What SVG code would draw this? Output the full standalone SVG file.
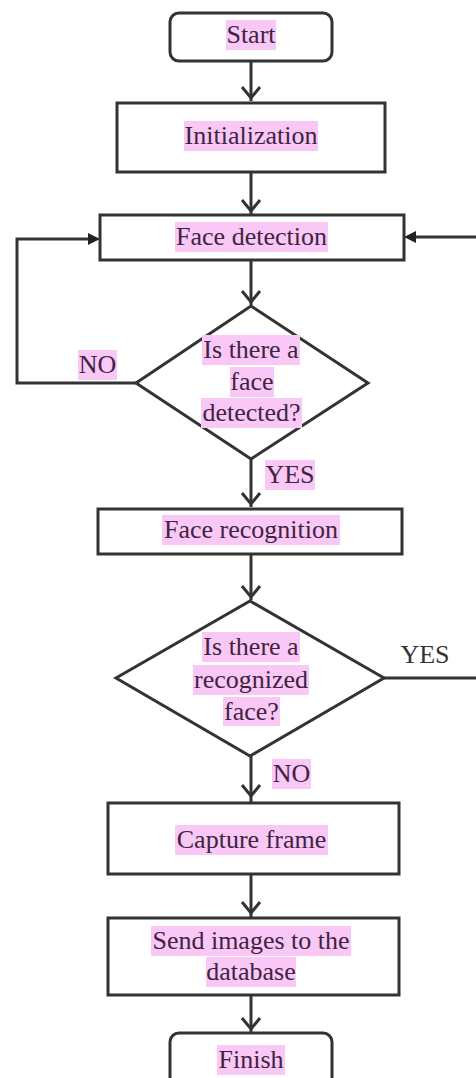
<svg xmlns="http://www.w3.org/2000/svg" width="476" height="1078" viewBox="0 0 476 1078">
<style>
.box{fill:#fff;stroke:#333;stroke-width:3}
.hl{fill:#f9c8f7}
text{font-family:'Liberation Serif','Times New Roman',serif;font-size:26px}
.t{fill:#40243f;text-anchor:middle}
.tp{fill:#333;text-anchor:middle}
.ln{fill:none;stroke:#333;stroke-width:3}
.hd{fill:none;stroke:#333;stroke-width:3;stroke-linejoin:miter}
.fh{fill:#222}
</style>
<rect width="476" height="1078" fill="#fff"/>
<g id="connectors">
<line class="ln" x1="251" y1="61" x2="251" y2="101"/>
<path class="hd" d="M242,87 L251,98 L260,87"/>
<line class="ln" x1="251" y1="172" x2="251" y2="214"/>
<path class="hd" d="M242,200 L251,211 L260,200"/>
<line class="ln" x1="251" y1="260" x2="251" y2="305"/>
<path class="hd" d="M242,291 L251,302 L260,291"/>
<polyline class="ln" points="136,383 17,383 17,239 90,239"/>
<path class="fh" d="M88,233 L100,239 L88,245 Z"/>
<line class="ln" x1="476" y1="237" x2="414" y2="237"/>
<path class="fh" d="M416,231 L404,237 L416,243 Z"/>
<line class="ln" x1="251" y1="459" x2="251" y2="507"/>
<path class="hd" d="M242,493 L251,504 L260,493"/>
<line class="ln" x1="251" y1="554" x2="251" y2="600"/>
<path class="hd" d="M242,586 L251,597 L260,586"/>
<line class="ln" x1="384" y1="678" x2="476" y2="678"/>
<line class="ln" x1="251" y1="756" x2="251" y2="802"/>
<path class="hd" d="M242,785 L251,796 L260,785"/>
<line class="ln" x1="251" y1="874" x2="251" y2="917"/>
<path class="hd" d="M242,902 L251,913 L260,902"/>
<line class="ln" x1="251" y1="995" x2="251" y2="1032"/>
<path class="hd" d="M242,1018 L251,1029 L260,1018"/>
<rect class="hl" x="78" y="350" width="39" height="30"/>
<text class="t" x="97.5" y="373">NO</text>
<rect class="hl" x="265" y="460" width="50" height="30"/>
<text class="t" x="290" y="483">YES</text>
<text class="tp" x="425" y="663">YES</text>
<rect class="hl" x="272" y="759" width="39" height="30"/>
<text class="t" x="291.5" y="782">NO</text>
</g>
<g id="start">
<rect class="box" x="170" y="13" width="162" height="48" rx="9"/>
<rect class="hl" x="226" y="20" width="50" height="30"/>
<text class="t" x="251" y="43">Start</text>
</g>
<g id="init">
<rect class="box" x="117" y="103" width="268" height="69"/>
<rect class="hl" x="184" y="121" width="134" height="30"/>
<text class="t" x="251" y="144">Initialization</text>
</g>
<g id="facedetect">
<rect class="box" x="100" y="215" width="304" height="45"/>
<rect class="hl" x="175" y="222" width="153" height="30"/>
<text class="t" x="251.5" y="245">Face detection</text>
</g>
<g id="decision1">
<polygon class="box" points="251,306 368,383 251,459 136,383"/>
<rect class="hl" x="202" y="335" width="98" height="30"/>
<text class="t" x="251" y="358">Is there a</text>
<rect class="hl" x="230" y="367" width="44" height="30"/>
<text class="t" x="252" y="390">face</text>
<rect class="hl" x="201" y="398" width="101" height="30"/>
<text class="t" x="251.5" y="421">detected?</text>
</g>
<g id="facerecog">
<rect class="box" x="98" y="509" width="304" height="45"/>
<rect class="hl" x="162" y="515" width="178" height="30"/>
<text class="t" x="251" y="538">Face recognition</text>
</g>
<g id="decision2">
<polygon class="box" points="250,601 384,678 250,756 116,678"/>
<rect class="hl" x="202" y="632" width="98" height="30"/>
<text class="t" x="251" y="655">Is there a</text>
<rect class="hl" x="193" y="665" width="116" height="30"/>
<text class="t" x="251" y="688">recognized</text>
<rect class="hl" x="223" y="697" width="57" height="29"/>
<text class="t" x="251.5" y="720">face?</text>
</g>
<g id="capture">
<rect class="box" x="108" y="803" width="291" height="71"/>
<rect class="hl" x="175" y="825" width="153" height="30"/>
<text class="t" x="251.5" y="848">Capture frame</text>
</g>
<g id="send">
<rect class="box" x="108" y="918" width="291" height="77"/>
<rect class="hl" x="151" y="926" width="200" height="30"/>
<text class="t" x="251" y="949">Send images to the</text>
<rect class="hl" x="206" y="957" width="90" height="30"/>
<text class="t" x="251" y="980">database</text>
</g>
<g id="finish">
<rect class="box" x="170" y="1033" width="162" height="60" rx="9"/>
<rect class="hl" x="217" y="1045" width="68" height="30"/>
<text class="t" x="251" y="1068">Finish</text>
</g>
</svg>
